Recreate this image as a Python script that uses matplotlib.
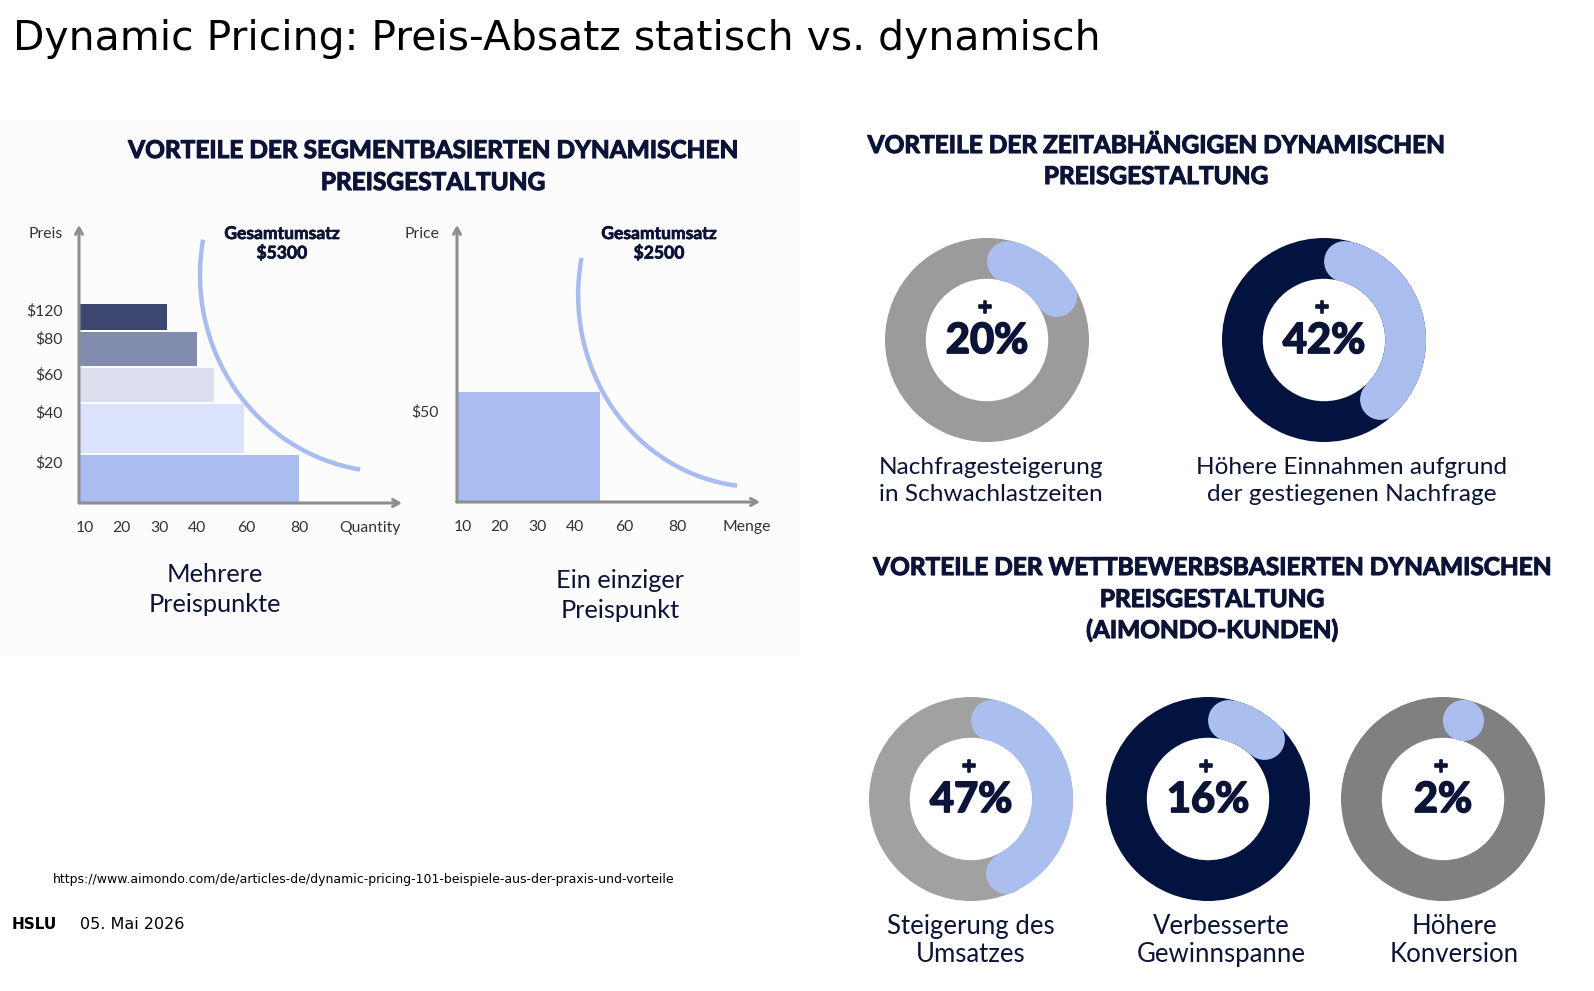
import numpy as np
import matplotlib.pyplot as plt
import matplotlib.patheffects as pe
from matplotlib.patches import Arc, Rectangle

W, H = 1594, 991

# --- data ---------------------------------------------------------------
# segment chart (mehrere Preispunkte)
seg_prices = ['$20', '$40', '$60', '$80', '$120']
seg_qty = [80, 60, 49, 43, 32]
seg_band_lo = [0, 50, 101, 137, 173]
seg_band_hi = [48, 99, 135, 171, 199]
seg_label_y = [41, 91, 129, 165, 193]
seg_colors = ['#abbdf0', '#dae3fb', '#dcdfee', '#818caf', '#3c4670']
seg_total = '$5300'

# single price chart
single_price = '$50'
single_qty = 52
single_height = 110
single_label_y = 91
single_total = '$2500'

qty_ticks = ['10', '20', '30', '40', '60', '80']
qty_tick_pos = [2.2, 15.3, 29.1, 42.9, 60.7, 80]

# donuts
top_values = [20, 42]
top_labels = ['Nachfragesteigerung\nin Schwachlastzeiten',
              'Höhere Einnahmen aufgrund\nder gestiegenen Nachfrage']
top_rings = ['#9b9b9b', '#03133f']
bot_values = [47, 16, 2]
bot_labels = ['Steigerung des\nUmsatzes', 'Verbesserte\nGewinnspanne',
              'Höhere\nKonversion']
bot_rings = ['#a1a1a1', '#03133f', '#808080']

NAVY = '#0b1437'
BLUE = '#abbef0'
AXIS = '#8e8e8e'
FONT = 'Lato'

fig = plt.figure(figsize=(W / 100, H / 100), dpi=100)
fig.patch.set_facecolor('white')


def fx(x):
    return x / W


def fy(y):
    return 1 - y / H


def ftext(x, y, s, **kw):
    kw.setdefault('color', NAVY)
    kw.setdefault('family', FONT)
    return fig.text(fx(x), fy(y), s, **kw)


def heavy(t, w=0.8):
    t.set_path_effects([pe.withStroke(linewidth=w, foreground=t.get_color())])
    return t


# faint panel background
fig.patches.append(Rectangle((0, fy(655)), fx(800), fy(120) - fy(655),
                             transform=fig.transFigure, color='#fcfcfc', zorder=-5))

# title + footer
ftext(13, 50, 'Dynamic Pricing: Preis-Absatz statisch vs. dynamisch',
      family='DejaVu Sans', fontsize=29.4, color='black', va='baseline')
ftext(53, 883, 'https://www.aimondo.com/de/articles-de/dynamic-pricing-101-beispiele-aus-der-praxis-und-vorteile',
      family='DejaVu Sans', fontsize=9, color='black', va='baseline')
ftext(12, 929, 'HSLU', family='DejaVu Sans', fontsize=11, fontweight='bold',
      color='black', va='baseline')
ftext(80, 929, '05. Mai 2026', family='DejaVu Sans', fontsize=11.5,
      color='black', va='baseline')

# headings
def heading(x, ys, lines):
    for y, line in zip(ys, lines):
        heavy(ftext(x, y, line, fontsize=17.6, fontweight='bold', ha='center',
                    va='baseline'), 0.8)


heading(433, [158, 190], ['VORTEILE DER SEGMENTBASIERTEN DYNAMISCHEN', 'PREISGESTALTUNG'])
heading(1156, [153, 184], ['VORTEILE DER ZEITABHÄNGIGEN DYNAMISCHEN', 'PREISGESTALTUNG'])
heading(1212, [575, 607, 638], ['VORTEILE DER WETTBEWERBSBASIERTEN DYNAMISCHEN',
                                'PREISGESTALTUNG', '(AIMONDO-KUNDEN)'])

PX_PER_Q = 2.75


def price_axes(x0, y0, x1, y1):
    ax = fig.add_axes([fx(x0), fy(y0), fx(x1) - fx(x0), fy(y1) - fy(y0)])
    ax.set_xlim(0, (x1 - x0) / PX_PER_Q)
    ax.set_ylim(0, y0 - y1)
    ax.patch.set_alpha(0)
    for s in ax.spines.values():
        s.set_visible(False)
    arrow = dict(arrowstyle='->,head_length=0.45,head_width=0.25', color=AXIS,
                 lw=2.2, shrinkA=0, shrinkB=0)
    ax.annotate('', xy=(0, 1), xytext=(0, 0), xycoords='axes fraction', arrowprops=arrow)
    ax.annotate('', xy=(1, 0), xytext=(0, 0), xycoords='axes fraction', arrowprops=arrow)
    ax.tick_params(length=0, labelsize=11.3, labelcolor='#333333')
    return ax


# chart 1: mehrere Preispunkte
ax1 = price_axes(79, 503, 402, 225)
ax1.barh(seg_band_lo, seg_qty, height=np.subtract(seg_band_hi, seg_band_lo),
         align='edge', color=seg_colors, zorder=1)
ax1.set_xticks(qty_tick_pos + [105.8], qty_ticks + ['Quantity'], family=FONT)
ax1.set_yticks(seg_label_y + [270], seg_prices + ['Preis'], family=FONT)
ax1.tick_params(axis='x', pad=13)
ax1.tick_params(axis='y', pad=12)
ax1.add_patch(Arc((113.1, 228), 138.2, 394, theta1=152.5, theta2=266.8,
                  color='#a9bcef', lw=3.2, zorder=2))

# chart 2: ein einziger Preispunkt
ax2 = price_axes(457, 502, 760, 225)
ax2.bar(0, single_height, width=single_qty, align='edge', color='#abbdf0', zorder=1)
ax2.set_xticks(qty_tick_pos + [105.5], qty_ticks + ['Menge'], family=FONT)
ax2.set_yticks([single_label_y, 269], [single_price, 'Price'], family=FONT)
ax2.tick_params(axis='x', pad=13)
ax2.tick_params(axis='y', pad=13)
ax2.add_patch(Arc((109.5, 207), 130.9, 384, theta1=150, theta2=267.7,
                  color='#a9bcef', lw=3.2, zorder=2))

for x, y, s in [(282, 234, 'Gesamtumsatz'), (282, 253, seg_total),
                (659, 234, 'Gesamtumsatz'), (659, 253, single_total)]:
    heavy(ftext(x, y, s, fontsize=12.6, fontweight='bold', ha='center', va='center'), 0.5)

ftext(215, 582, 'Mehrere', fontsize=18.3, ha='center', va='baseline')
ftext(215, 612, 'Preispunkte', fontsize=18.3, ha='center', va='baseline')
ftext(620, 588, 'Ein einziger', fontsize=18.3, ha='center', va='baseline')
ftext(620, 618, 'Preispunkt', fontsize=18.3, ha='center', va='baseline')

# donuts
R_PX = 102
RING_PT = 0.4 * R_PX * 72 / 100


def donut(cx, cy, value, ring_color):
    side = 2.3 * R_PX
    ax = fig.add_axes([fx(cx - side / 2), fy(cy + side / 2), side / W, side / H])
    ax.pie([1], colors=[ring_color], radius=1, startangle=90,
           wedgeprops=dict(width=0.4, linewidth=0))
    ax.set_xlim(-1.15, 1.15)
    ax.set_ylim(-1.15, 1.15)
    ax.set_aspect('equal')
    ax.axis('off')
    cap = np.degrees(np.arcsin(0.2 / 0.8))
    start = cap
    end = max(cap, value / 100 * 360 - cap)
    t = np.radians(90 - np.linspace(start, end, 100))
    ax.plot(0.8 * np.cos(t), 0.8 * np.sin(t), color=BLUE, lw=RING_PT,
            solid_capstyle='butt')
    ax.plot(0.8 * np.cos(t[[0, -1]]), 0.8 * np.sin(t[[0, -1]]), 'o', color=BLUE,
            ms=RING_PT, mew=0)
    heavy(ftext(cx - 2, cy - 33, '+', fontsize=17, fontweight='bold', ha='center',
                va='center'), 1.2)
    heavy(ftext(cx, cy + 1, f'{value}%', fontsize=30, fontweight='bold', ha='center',
                va='center'), 1.3)


top_x = [987, 1324]
for x, v, c, lab in zip(top_x, top_values, top_rings, top_labels):
    donut(x, 340, v, c)
lab_x = [991, 1352]
for x, lab in zip(lab_x, top_labels):
    for k, line in enumerate(lab.split('\n')):
        ftext(x, 474 + 27 * k, line, fontsize=17.6, ha='center', va='baseline')

bot_x = [971, 1208, 1443]
for x, v, c in zip(bot_x, bot_values, bot_rings):
    donut(x, 799, v, c)
blab_x = [971, 1221, 1454]
for x, lab in zip(blab_x, bot_labels):
    for k, line in enumerate(lab.split('\n')):
        ftext(x, 934 + 28 * k, line, fontsize=18.5, ha='center', va='baseline')

fig.savefig('out.png', dpi=100)
